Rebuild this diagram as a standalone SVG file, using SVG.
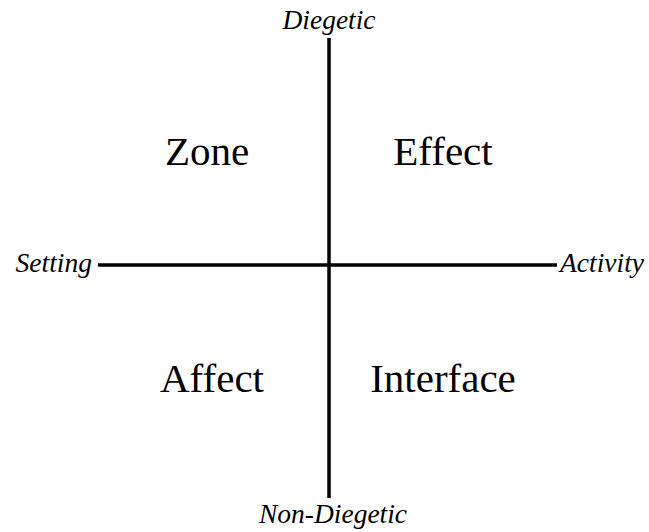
<svg xmlns="http://www.w3.org/2000/svg" width="649" height="532" viewBox="0 0 649 532">
<style>
.axis{stroke:#000;stroke-width:3.5;fill:none}
.lab{font-family:"Liberation Serif",serif;font-style:italic;font-size:27.5px;fill:#000}
.q{font-family:"Liberation Serif",serif;font-size:41px;fill:#000;text-anchor:middle}
</style>
<rect width="649" height="532" fill="#fff"/>
<g id="connectors">
<line class="axis" x1="329" y1="38" x2="329" y2="498"/>
<line class="axis" x1="98" y1="265" x2="557" y2="265"/>
</g>
<g id="diegetic"><text class="lab" x="329" y="29" text-anchor="middle">Diegetic</text></g>
<g id="non-diegetic"><text class="lab" x="333" y="523" text-anchor="middle">Non-Diegetic</text></g>
<g id="setting"><text class="lab" x="92" y="272" text-anchor="end">Setting</text></g>
<g id="activity"><text class="lab" x="560" y="272">Activity</text></g>
<g id="zone"><text class="q" x="207" y="165">Zone</text></g>
<g id="effect"><text class="q" x="443" y="165">Effect</text></g>
<g id="affect"><text class="q" x="212" y="392">Affect</text></g>
<g id="interface"><text class="q" x="443" y="392">Interface</text></g>
</svg>
